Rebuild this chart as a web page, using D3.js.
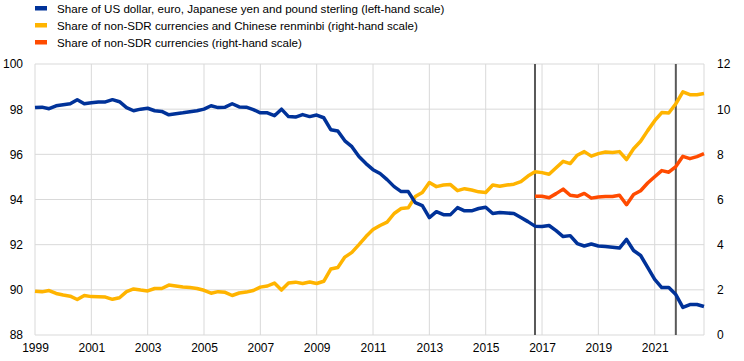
<!DOCTYPE html>
<html>
<head>
<meta charset="utf-8">
<script src="https://cdn.jsdelivr.net/npm/d3@7/dist/d3.min.js"></script>
<style>
  body { margin: 0; background: #fff; }
  text { font-family: "Liberation Sans", Arial, sans-serif; font-size: 12px; fill: #000; }
</style>
</head>
<body>
<script>
// quarterly observations, 1999 Q1 - 2022 Q4
var firstYear = 1999;

// share of USD, EUR, JPY and GBP (left-hand scale)
var sdrShare = [
  98.07, 98.09, 98.02, 98.15,  98.20, 98.24, 98.42, 98.24,
  98.28, 98.32, 98.32, 98.42,  98.33, 98.07, 97.93, 98.00,
  98.04, 97.93, 97.90, 97.75,  97.80, 97.84, 97.89, 97.93,
  98.00, 98.15, 98.07, 98.09,  98.24, 98.10, 98.09, 97.98,
  97.84, 97.84, 97.71, 98.00,  97.67, 97.65, 97.76, 97.67,
  97.74, 97.62, 97.09, 97.03,  96.60, 96.34, 95.90, 95.59,
  95.32, 95.15, 94.88, 94.57,  94.35, 94.35, 93.86, 93.73,
  93.20, 93.46, 93.33, 93.33,  93.64, 93.50, 93.50, 93.60,
  93.66, 93.38, 93.42, 93.40,  93.38, 93.20, 93.02, 92.82,
  92.80, 92.85, 92.62, 92.36,  92.40, 92.05, 91.94, 92.03,
  91.94, 91.92, 91.89, 91.85,  92.23, 91.74, 91.52, 90.99,
  90.46, 90.10, 90.10, 89.79,  89.22, 89.35, 89.35, 89.26
];

// share of non-SDR currencies and Chinese renminbi (right-hand scale)
var nonSdrCny = [
  1.94, 1.91, 1.97, 1.84,  1.77, 1.72, 1.57, 1.75,
  1.70, 1.69, 1.68, 1.58,  1.65, 1.92, 2.04, 1.99,
  1.95, 2.06, 2.06, 2.21,  2.17, 2.13, 2.10, 2.06,
  1.98, 1.85, 1.92, 1.89,  1.75, 1.86, 1.90, 1.97,
  2.12, 2.17, 2.30, 1.99,  2.30, 2.34, 2.28, 2.35,
  2.28, 2.38, 2.92, 2.99,  3.45, 3.66, 4.00, 4.36,
  4.67, 4.85, 5.00, 5.38,  5.60, 5.63, 6.13, 6.31,
  6.75, 6.57, 6.64, 6.66,  6.39, 6.48, 6.42, 6.34,
  6.31, 6.64, 6.59, 6.64,  6.68, 6.79, 7.04, 7.23,
  7.19, 7.12, 7.41, 7.69,  7.59, 7.96, 8.12, 7.92,
  8.03, 8.10, 8.08, 8.12,  7.77, 8.25, 8.58, 9.05,
  9.49, 9.85, 9.83, 10.24, 10.77, 10.64, 10.64, 10.69
];

// share of non-SDR currencies (right-hand scale), available from 2016 Q4
var nonSdrStart = 2016.75;
var nonSdr = [
  6.14,
  6.14, 6.08, 6.26, 6.46,  6.19, 6.14, 6.27, 6.06,
  6.11, 6.13, 6.13, 6.19,  5.77, 6.22, 6.39, 6.73,
  7.01, 7.28, 7.21, 7.46,  7.91, 7.81, 7.90, 8.03
];

var breakLines = [2016.75, 2021.75];
var yearTicks = [1999, 2001, 2003, 2005, 2007, 2009, 2011, 2013, 2015, 2017, 2019, 2021];
var leftTicks = [88, 90, 92, 94, 96, 98, 100];
var rightTicks = [0, 2, 4, 6, 8, 10, 12];

var legendLabels = [
  'Share of US dollar, euro, Japanese yen and pound sterling (left-hand scale)',
  'Share of non-SDR currencies and Chinese renminbi (right-hand scale)',
  'Share of non-SDR currencies (right-hand scale)'
];
var colors = ['#003299', '#ffb400', '#ff4b00'];

var width = 744, height = 361;
var margin = {top: 64, right: 40, bottom: 26, left: 35};

var svg = d3.select('body')
    .append('svg')
    .attr('width', width)
    .attr('height', height);

var x = d3.scaleLinear()
    .domain([firstYear, 2022.75])
    .range([margin.left, width - margin.right]);

var yLeft = d3.scaleLinear()
    .domain([88, 100])
    .range([height - margin.bottom, margin.top]);

var yRight = d3.scaleLinear()
    .domain([0, 12])
    .range([height - margin.bottom, margin.top]);

// grid
var grid = svg.append('g').attr('class', 'grid');

grid.selectAll('.hgrid')
    .data(leftTicks)
    .enter()
    .append('line')
    .attr('x1', x.range()[0])
    .attr('x2', x.range()[1])
    .attr('y1', function(d) { return yLeft(d); })
    .attr('y2', function(d) { return yLeft(d); })
    .style('stroke', '#d9d9d9')
    .style('stroke-width', 1);

grid.selectAll('.vgrid')
    .data(yearTicks.concat([x.domain()[1]]))
    .enter()
    .append('line')
    .attr('x1', function(d) { return x(d); })
    .attr('x2', function(d) { return x(d); })
    .attr('y1', yLeft(100))
    .attr('y2', yLeft(88))
    .style('stroke', '#d9d9d9')
    .style('stroke-width', 1);

// axes (labels only, gridlines drawn above)
var xAxis = svg.append('g')
    .attr('transform', 'translate(0,' + (height - margin.bottom) + ')')
    .call(d3.axisBottom(x).tickValues(yearTicks).tickFormat(d3.format('d')).tickSize(0).tickPadding(8));

var lAxis = svg.append('g')
    .attr('transform', 'translate(' + (margin.left - 12) + ',0)')
    .call(d3.axisLeft(yLeft).tickValues(leftTicks).tickSize(0).tickPadding(0));

var rAxis = svg.append('g')
    .attr('transform', 'translate(' + (width - margin.right + 13) + ',0)')
    .call(d3.axisRight(yRight).tickValues(rightTicks).tickSize(0).tickPadding(0));

[xAxis, lAxis, rAxis].forEach(function(a) {
    a.select('.domain').remove();
    a.selectAll('text').style('font-size', '12px').attr('fill', '#000');
});

// vertical break lines
svg.selectAll('.break')
    .data(breakLines)
    .enter()
    .append('line')
    .attr('x1', function(d) { return x(d); })
    .attr('x2', function(d) { return x(d); })
    .attr('y1', yLeft(100))
    .attr('y2', yLeft(88))
    .style('stroke', '#595959')
    .style('stroke-width', 2);

// lines
var lineLeft = d3.line()
    .x(function(d, i) { return x(firstYear + i / 4); })
    .y(function(d) { return yLeft(d); });

var lineRight = d3.line()
    .x(function(d, i) { return x(firstYear + i / 4); })
    .y(function(d) { return yRight(d); });

var lineRightLate = d3.line()
    .x(function(d, i) { return x(nonSdrStart + i / 4); })
    .y(function(d) { return yRight(d); });

svg.append('path')
    .datum(nonSdrCny)
    .attr('d', lineRight)
    .style('fill', 'none')
    .style('stroke', colors[1])
    .style('stroke-width', 3.5)
    .style('stroke-linejoin', 'round');

svg.append('path')
    .datum(nonSdr)
    .attr('d', lineRightLate)
    .style('fill', 'none')
    .style('stroke', colors[2])
    .style('stroke-width', 3.5)
    .style('stroke-linejoin', 'round');

svg.append('path')
    .datum(sdrShare)
    .attr('d', lineLeft)
    .style('fill', 'none')
    .style('stroke', colors[0])
    .style('stroke-width', 3.5)
    .style('stroke-linejoin', 'round');

// legend
var legend = svg.selectAll('.legend')
    .data(legendLabels)
    .enter()
    .append('g')
    .attr('class', 'legend')
    .attr('transform', function(d, i) {
        return 'translate(35,' + (8 + i * 17) + ')';
    });

legend.append('rect')
    .attr('x', 0)
    .attr('y', -2)
    .attr('width', 12)
    .attr('height', 4.5)
    .style('fill', function(d, i) { return colors[i]; });

legend.append('text')
    .attr('x', 22)
    .attr('y', 4.5)
    .style('font-size', '11.6px')
    .text(function(d) { return d; });
</script>
</body>
</html>
